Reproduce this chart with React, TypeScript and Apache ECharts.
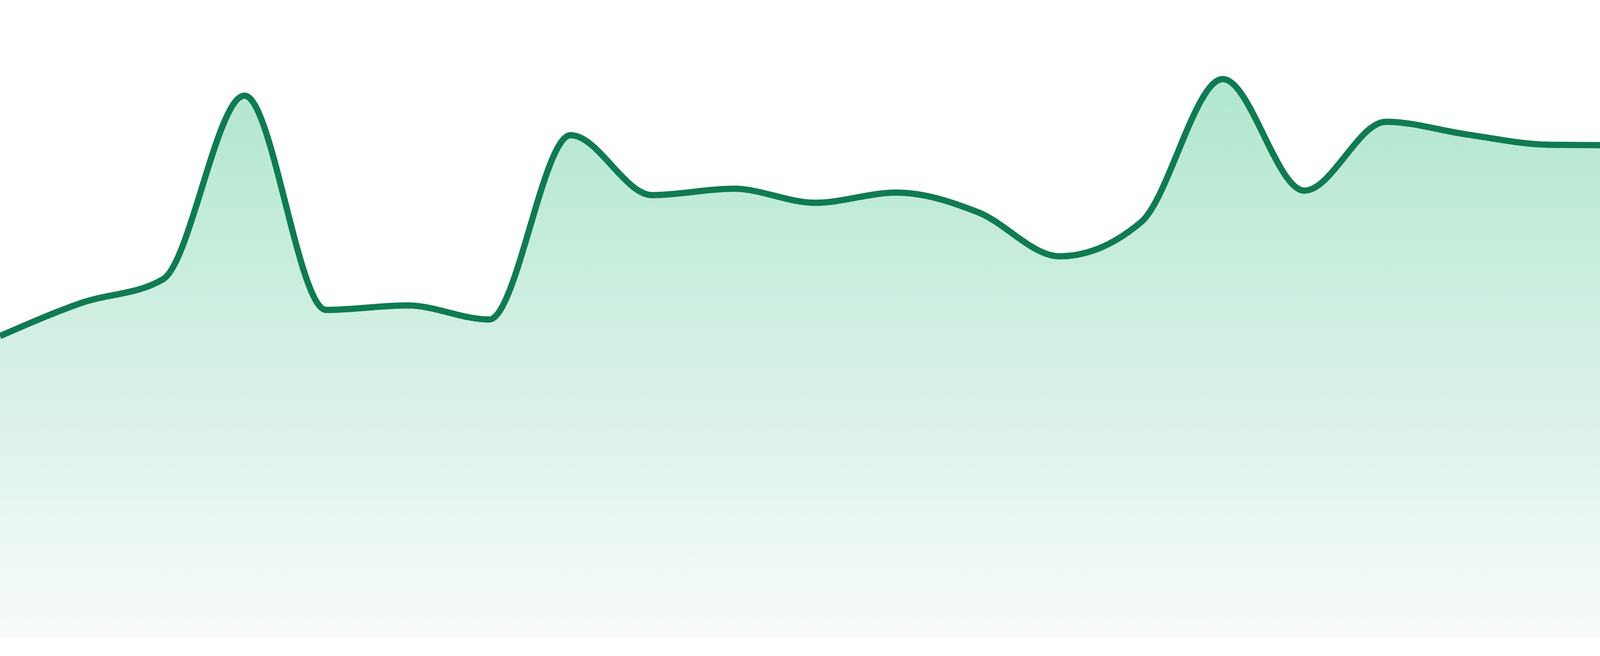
import * as echarts from "echarts";
import { useEffect, useRef } from "react";

// 24 hourly readings
const hours = [
  "00:00", "01:00", "02:00", "03:00", "04:00", "05:00", "06:00", "07:00",
  "08:00", "09:00", "10:00", "11:00", "12:00", "13:00", "14:00", "15:00",
  "16:00", "17:00", "18:00", "19:00", "20:00", "21:00", "22:00", "23:00",
];

const values = [
  47.3, 52.5, 56.2, 85.0, 51.4, 52.1, 49.9, 78.8,
  69.4, 70.4, 68.2, 69.8, 66.7, 59.8, 65.2, 87.6,
  70.1, 80.9, 78.9, 77.3, 77.2, 67.3, 65.8, 66.0,
];

const LINE_COLOR = "#107b52";

const sign = (v: number) => (v < 0 ? -1 : 1);

// monotone cubic (same rule as d3.curveMonotoneX), in pixel space
const monotonePath = (pts: number[][]) => {
  const n = pts.length;
  const h: number[] = [];
  const s: number[] = [];
  for (let i = 0; i < n - 1; i++) {
    h[i] = pts[i + 1][0] - pts[i][0];
    s[i] = (pts[i + 1][1] - pts[i][1]) / h[i];
  }
  const t: number[] = new Array(n).fill(0);
  for (let i = 1; i < n - 1; i++) {
    const p = (s[i - 1] * h[i] + s[i] * h[i - 1]) / (h[i - 1] + h[i]);
    t[i] =
      (sign(s[i - 1]) + sign(s[i])) *
        Math.min(Math.abs(s[i - 1]), Math.abs(s[i]), 0.5 * Math.abs(p)) || 0;
  }
  t[0] = (3 * s[0] - t[1]) / 2;
  t[n - 1] = (3 * s[n - 2] - t[n - 2]) / 2;

  let d = `M${pts[0][0]},${pts[0][1]}`;
  for (let i = 0; i < n - 1; i++) {
    const dx = h[i] / 3;
    d += ` C${pts[i][0] + dx},${pts[i][1] + t[i] * dx} ${pts[i + 1][0] - dx},${
      pts[i + 1][1] - t[i + 1] * dx
    } ${pts[i + 1][0]},${pts[i + 1][1]}`;
  }
  return d;
};

const App = () => {
  const chartRef = useRef<HTMLDivElement | null>(null);

  useEffect(() => {
    document.body.style.margin = "0";
    document.body.style.overflow = "hidden";

    const chart = echarts.init(chartRef.current!, null, { renderer: "svg" });

    const option = {
      animation: false,
      backgroundColor: "#ffffff",
      grid: { left: 0, right: 0, top: 0, bottom: 47 },
      xAxis: {
        type: "category",
        data: hours,
        boundaryGap: false,
        show: false,
      },
      yAxis: {
        type: "value",
        min: 0,
        max: 100,
        show: false,
      },
      series: [
        {
          name: "Readings",
          type: "custom",
          data: values.map((v, i) => [i, v]),
          encode: { x: 0, y: 1 },
          renderItem: (params: any, api: any) => {
            if (params.dataIndex !== 0) return { type: "group", children: [] };
            const pts = values.map((v, i) => api.coord([i, v]));
            const baseY = api.coord([0, 0])[1];
            const line = monotonePath(pts);
            const area =
              line +
              ` L${pts[pts.length - 1][0]},${baseY} L${pts[0][0]},${baseY} Z`;
            return {
              type: "group",
              children: [
                {
                  type: "path",
                  shape: { pathData: area },
                  style: {
                    fill: new echarts.graphic.LinearGradient(0, 0, 0, 1, [
                      { offset: 0, color: "#b1e6cf" },
                      { offset: 1, color: "#f8fbfa" },
                    ]),
                    stroke: "none",
                  },
                },
                {
                  type: "path",
                  shape: { pathData: line },
                  style: {
                    fill: "none",
                    stroke: LINE_COLOR,
                    lineWidth: 16,
                    lineJoin: "round",
                  },
                },
              ],
            };
          },
        },
      ],
    };

    chart.setOption(option);

    return () => {
      chart.dispose();
    };
  }, []);

  return <div ref={chartRef} style={{ width: "4800px", height: "1680px" }} />;
};

export default App;
